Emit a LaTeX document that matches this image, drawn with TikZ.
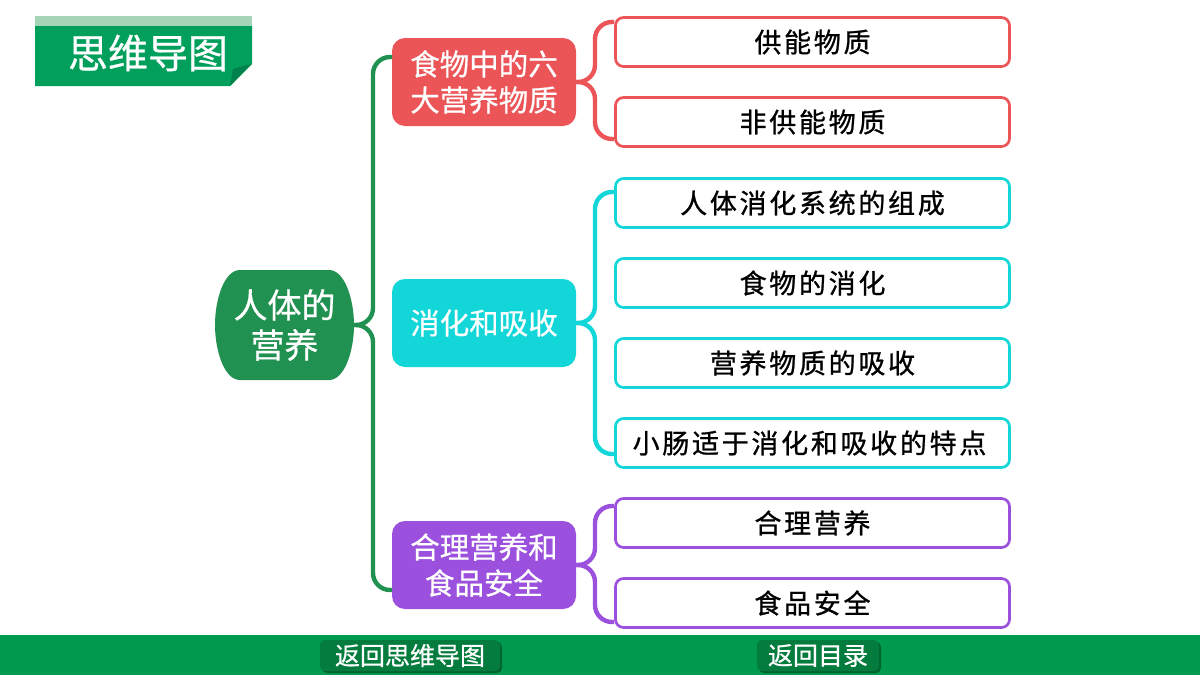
\documentclass[tikz,border=0pt]{standalone}
\usepackage{fontspec}
\setmainfont[FakeBold=0.6]{Noto Sans CJK SC}
\newfontfamily\leaffont[LetterSpace=10,FakeBold=0.9]{Noto Sans CJK SC}
\usetikzlibrary{calc,shadows}
\definecolor{barG}{HTML}{009A4E}
\definecolor{btnG}{HTML}{047C3D}
\definecolor{headG}{HTML}{00A05C}
\definecolor{bandG}{HTML}{A6D5B8}
\definecolor{foldG}{HTML}{00804A}
\definecolor{rootG}{HTML}{209150}
\definecolor{redC}{HTML}{EC5558}
\definecolor{cyanC}{HTML}{12D6D8}
\definecolor{purC}{HTML}{9B51DD}
\tikzset{
  x=1pt,y=-1pt,
  branch/.style={fill=#1,rounded corners=13pt,minimum width=184pt,minimum height=88pt,inner sep=0pt,outer sep=0pt,text=white,align=center,font=\fontsize{29.5}{36}\selectfont},
  leaf/.style={draw=#1,fill=white,line width=2.7pt,rounded corners=8pt,minimum width=394pt,minimum height=49pt,inner sep=0pt,outer sep=0pt,text=black,align=center,font=\leaffont\fontsize{27}{30}\selectfont},
  conn/.style={draw=#1,line width=4.4pt,rounded corners=17pt},
  btn/.style={fill=btnG,rounded corners=5pt,minimum height=31pt,inner sep=0pt,outer sep=0pt,text=white,font=\fontsize{25}{28}\selectfont,drop shadow={shadow xshift=2pt,shadow yshift=-2pt,fill=black,opacity=.35}},
}
\newcommand{\bracelink}[4]{%
  \coordinate (tipb) at ($(#2)+(19,0)$);
  \coordinate (tipe) at ($(#2)+(38,0)$);
  \coordinate (enda) at (#3);
  \coordinate (endb) at (#4);
  \draw[conn=#1] (tipe |- enda) -| (tipb) -- (#2);
  \draw[conn=#1] (tipe |- endb) -| (tipb) -- (#2);
}
\begin{document}
\begin{tikzpicture}
\useasboundingbox (0,0) rectangle (1200,675);
\fill[white] (0,0) rectangle (1200,675);
% header
\fill[bandG] (35,16) rectangle (252,26);
\fill[headG] (35,26) -- (252,26) -- (252,64) -- (230,86) -- (35,86) -- cycle;
\fill[foldG] (233,69) -- (251,64) -- (230,86) -- cycle;
\node[text=white,inner sep=0pt,font=\fontsize{40}{44}\selectfont] (title) at (148,53) {思维导图};
% bottom bar
\fill[barG] (0,635) rectangle (1200,675);
\node[btn,minimum width=180pt] (back1) at (410,655.5) {返回思维导图};
\node[btn,minimum width=122pt] (back2) at (818,655.5) {返回目录};
% root
\fill[rootG] (240,270) -- (329,270) .. controls (345,270) and (354,300) .. (354,325) .. controls (354,350) and (345,380) .. (329,380) -- (240,380) .. controls (224,380) and (215,350) .. (215,325) .. controls (215,300) and (224,270) .. (240,270) -- cycle;
\node[minimum width=139pt,minimum height=110pt,inner sep=0pt,outer sep=0pt,text=white,align=center,font=\fontsize{34}{40}\selectfont] (root) at (284.5,325) {人体的\\营养};
% branches
\node[branch=redC] (b1) at (484,82) {食物中的六\\大营养物质};
\node[branch=cyanC] (b2) at (484,323) {消化和吸收};
\node[branch=purC] (b3) at (484,565) {合理营养和\\食品安全};
% leaves
\node[leaf=redC] (l1) at (812.5,42) {供能物质};
\node[leaf=redC] (l2) at (812.5,122) {非供能物质};
\node[leaf=cyanC] (l3) at (812.5,203) {人体消化系统的组成};
\node[leaf=cyanC] (l4) at (812.5,283) {食物的消化};
\node[leaf=cyanC] (l5) at (812.5,363) {营养物质的吸收};
\node[leaf=cyanC] (l6) at (812.5,443) {\hspace*{-6pt}小肠适于消化和吸收的特点};
\node[leaf=purC] (l7) at (812.5,523) {合理营养};
\node[leaf=purC] (l8) at (812.5,603) {食品安全};
% connectors
\bracelink{rootG}{root.east}{[yshift=25pt]b1.west}{[yshift=-25pt]b3.west}
\bracelink{redC}{b1.east}{[yshift=20pt]l1.west}{[yshift=-17pt]l2.west}
\bracelink{cyanC}{b2.east}{[yshift=11pt]l3.west}{[yshift=-11pt]l6.west}
\bracelink{purC}{b3.east}{[yshift=17pt]l7.west}{[yshift=-19pt]l8.west}
\end{tikzpicture}
\end{document}
